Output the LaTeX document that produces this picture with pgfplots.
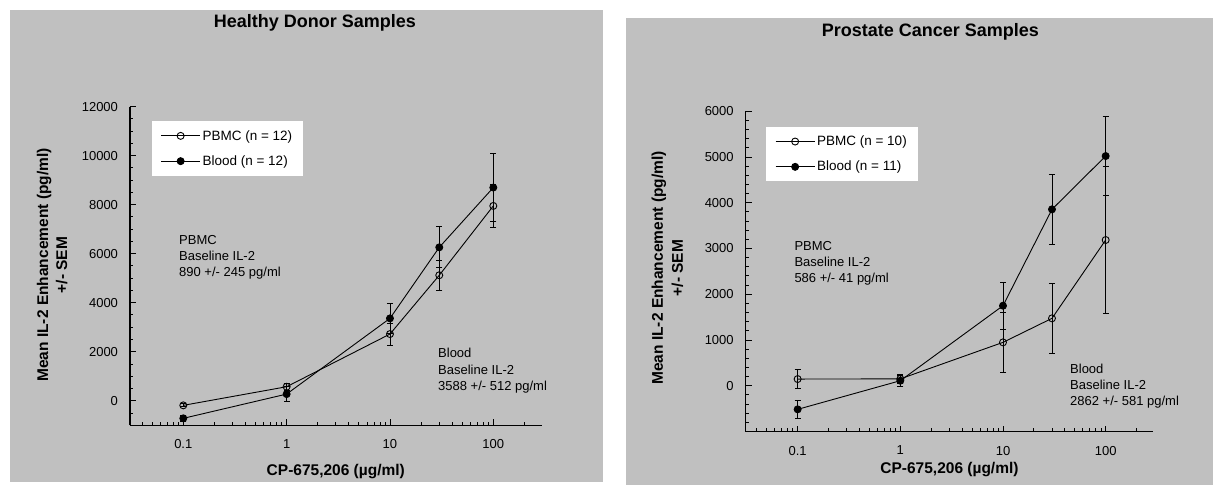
\documentclass[border=0pt]{standalone}
\usepackage{pgfplots}
\pgfplotsset{compat=1.18}
\usepackage{fontspec}
\setmainfont{Liberation Sans}
\definecolor{panelgray}{RGB}{192,192,192}

\pgfplotsset{
  /pgfplots/mypanel/.style={
    scale only axis,
    axis x line=bottom, axis y line=left,
    axis line style={-, line width=1.1pt, black},
    tick align=inside, major tick length=6pt, minor tick length=3.5pt,
    tick style={black, line width=0.9pt},
    xtick={0.1,1,10,100}, xticklabels={0.1,1,10,100},
    minor xtick={0.04,0.05,0.06,0.07,0.08,0.09,0.2,0.3,0.4,0.5,0.6,0.7,0.8,0.9,2,3,4,5,6,7,8,9,20,30,40,50,60,70,80,90,200},
    ticklabel style={font=\fontsize{13}{15}\selectfont},
    /pgf/number format/assume math mode=true,
    /pgf/number format/1000 sep={},
    scaled y ticks=false,
    yticklabel style={xshift=-8.5pt},
    xticklabel style={yshift=-11pt},
    legend cell align=left,
    legend image code/.code={\draw[mark repeat=2,mark phase=2,##1] plot coordinates {(0pt,0pt) (19.5pt,0pt) (39pt,0pt)};},
    legend style={draw=none, fill=white, font=\fontsize{13.5}{16}\selectfont, anchor=north west, inner xsep=9pt, inner ysep=7pt, row sep=10pt},
    clip=false,
  },
}

\begin{document}
\begin{tikzpicture}[x=1pt,y=1pt]
\useasboundingbox (0,0) rectangle (1213,485);
\fill[white] (0,0) rectangle (1213,485);
\fill[panelgray] (10,3) rectangle (603,475);
\fill[panelgray] (626,0) rectangle (1213,467);

% ---------- Healthy donor ----------
\begin{semilogxaxis}[mypanel, at={(130pt,59.8pt)}, anchor=south west,
  width=411.7pt, height=318.5pt,
  xmin=0.0305, xmax=294, ymin=-1000, ymax=12000,
  ytick={0,2000,...,12000}, minor ytick={-500,0,...,12000},
  legend style={at={(0.0522,0.955)}}]
\addplot[black, line width=0.9pt, mark=o, mark size=3.5pt, mark options={solid},
  error bars/.cd, y dir=both, y explicit,
  error bar style={line width=0.9pt, black},
  error mark options={rotate=90, mark size=3pt, line width=0.9pt, black}] coordinates {
  (0.1,-190) +- (0,60)
  (1,570) +- (0,150)
  (10,2720) +- (0,450)
  (30,5120) +- (0,620)
  (100,7950) +- (0,870)
};
\addlegendentry{PBMC (n = 12)}
\addplot[black, line width=0.9pt, mark=*, mark size=3.5pt, mark options={solid, fill=black},
  error bars/.cd, y dir=both, y explicit,
  error bar style={line width=0.9pt, black},
  error mark options={rotate=90, mark size=3pt, line width=0.9pt, black}] coordinates {
  (0.1,-720) +- (0,110)
  (1,270) +- (0,300)
  (10,3360) +- (0,600)
  (30,6260) +- (0,840)
  (100,8700) +- (0,1400)
};
\addlegendentry{Blood (n = 12)}
\end{semilogxaxis}

% ---------- Prostate cancer ----------
\begin{semilogxaxis}[mypanel, at={(745.7pt,53.5pt)}, anchor=south west,
  width=407.6pt, height=320.3pt,
  xmin=0.0312, xmax=291, ymin=-1000, ymax=6000,
  ytick={0,1000,...,6000}, minor ytick={-800,-600,...,6000},
  legend style={at={(0.0498,0.9516)}}]
\addplot[black, line width=0.9pt, mark=o, mark size=3.5pt, mark options={solid},
  error bars/.cd, y dir=both, y explicit,
  error bar style={line width=0.9pt, black},
  error mark options={rotate=90, mark size=3pt, line width=0.9pt, black}] coordinates {
  (0.1,146) +- (0,200)
  (1,150) +- (0,100)
  (10,948) +- (0,655)
  (30,1473) +- (0,760)
  (100,3185) +- (0,1600)
};
\addlegendentry{PBMC (n = 10)}
\addplot[black, line width=0.9pt, mark=*, mark size=3.5pt, mark options={solid, fill=black},
  error bars/.cd, y dir=both, y explicit,
  error bar style={line width=0.9pt, black},
  error mark options={rotate=90, mark size=3pt, line width=0.9pt, black}] coordinates {
  (0.1,-516) +- (0,195)
  (1,110) +- (0,120)
  (10,1749) +- (0,510)
  (30,3855) +- (0,770)
  (100,5020) +- (0,870)
};
\addlegendentry{Blood (n = 11)}
\end{semilogxaxis}

% titles
\node[font=\bfseries\fontsize{18}{20}\selectfont] at (314.8,462.5) {Healthy Donor Samples};
\node[font=\bfseries\fontsize{18}{20}\selectfont] at (930.3,453.5) {Prostate Cancer Samples};
% x labels
\node[font=\bfseries\fontsize{15.5}{18}\selectfont] at (335.8,13.5) {CP-675,206 (µg/ml)};
\node[font=\bfseries\fontsize{15.5}{18}\selectfont] at (949.5,15.5) {CP-675,206 (µg/ml)};
% y labels
\node[rotate=90, align=center, font=\bfseries\fontsize{15.5}{19}\selectfont] at (52.2,220) {Mean IL-2 Enhancement (pg/ml)\\+/- SEM};
\node[rotate=90, align=center, font=\bfseries\fontsize{15.5}{20}\selectfont] at (667.5,217) {Mean IL-2 Enhancement (pg/ml)\\+/- SEM};
% annotations
\node[anchor=north west, inner sep=0pt, align=left, font=\fontsize{13}{16.2}\selectfont] at (179,250.2) {PBMC\\Baseline IL-2\\890 +/- 245 pg/ml};
\node[anchor=north west, inner sep=0pt, align=left, font=\fontsize{13}{16.2}\selectfont] at (438,136.8) {Blood\\Baseline IL-2\\3588 +/- 512 pg/ml};
\node[anchor=north west, inner sep=0pt, align=left, font=\fontsize{13}{15.8}\selectfont] at (794.3,243.5) {PBMC\\Baseline IL-2\\586 +/- 41 pg/ml};
\node[anchor=north west, inner sep=0pt, align=left, font=\fontsize{13}{16.2}\selectfont] at (1070,121.2) {Blood\\Baseline IL-2\\2862 +/- 581 pg/ml};
\end{tikzpicture}
\end{document}
